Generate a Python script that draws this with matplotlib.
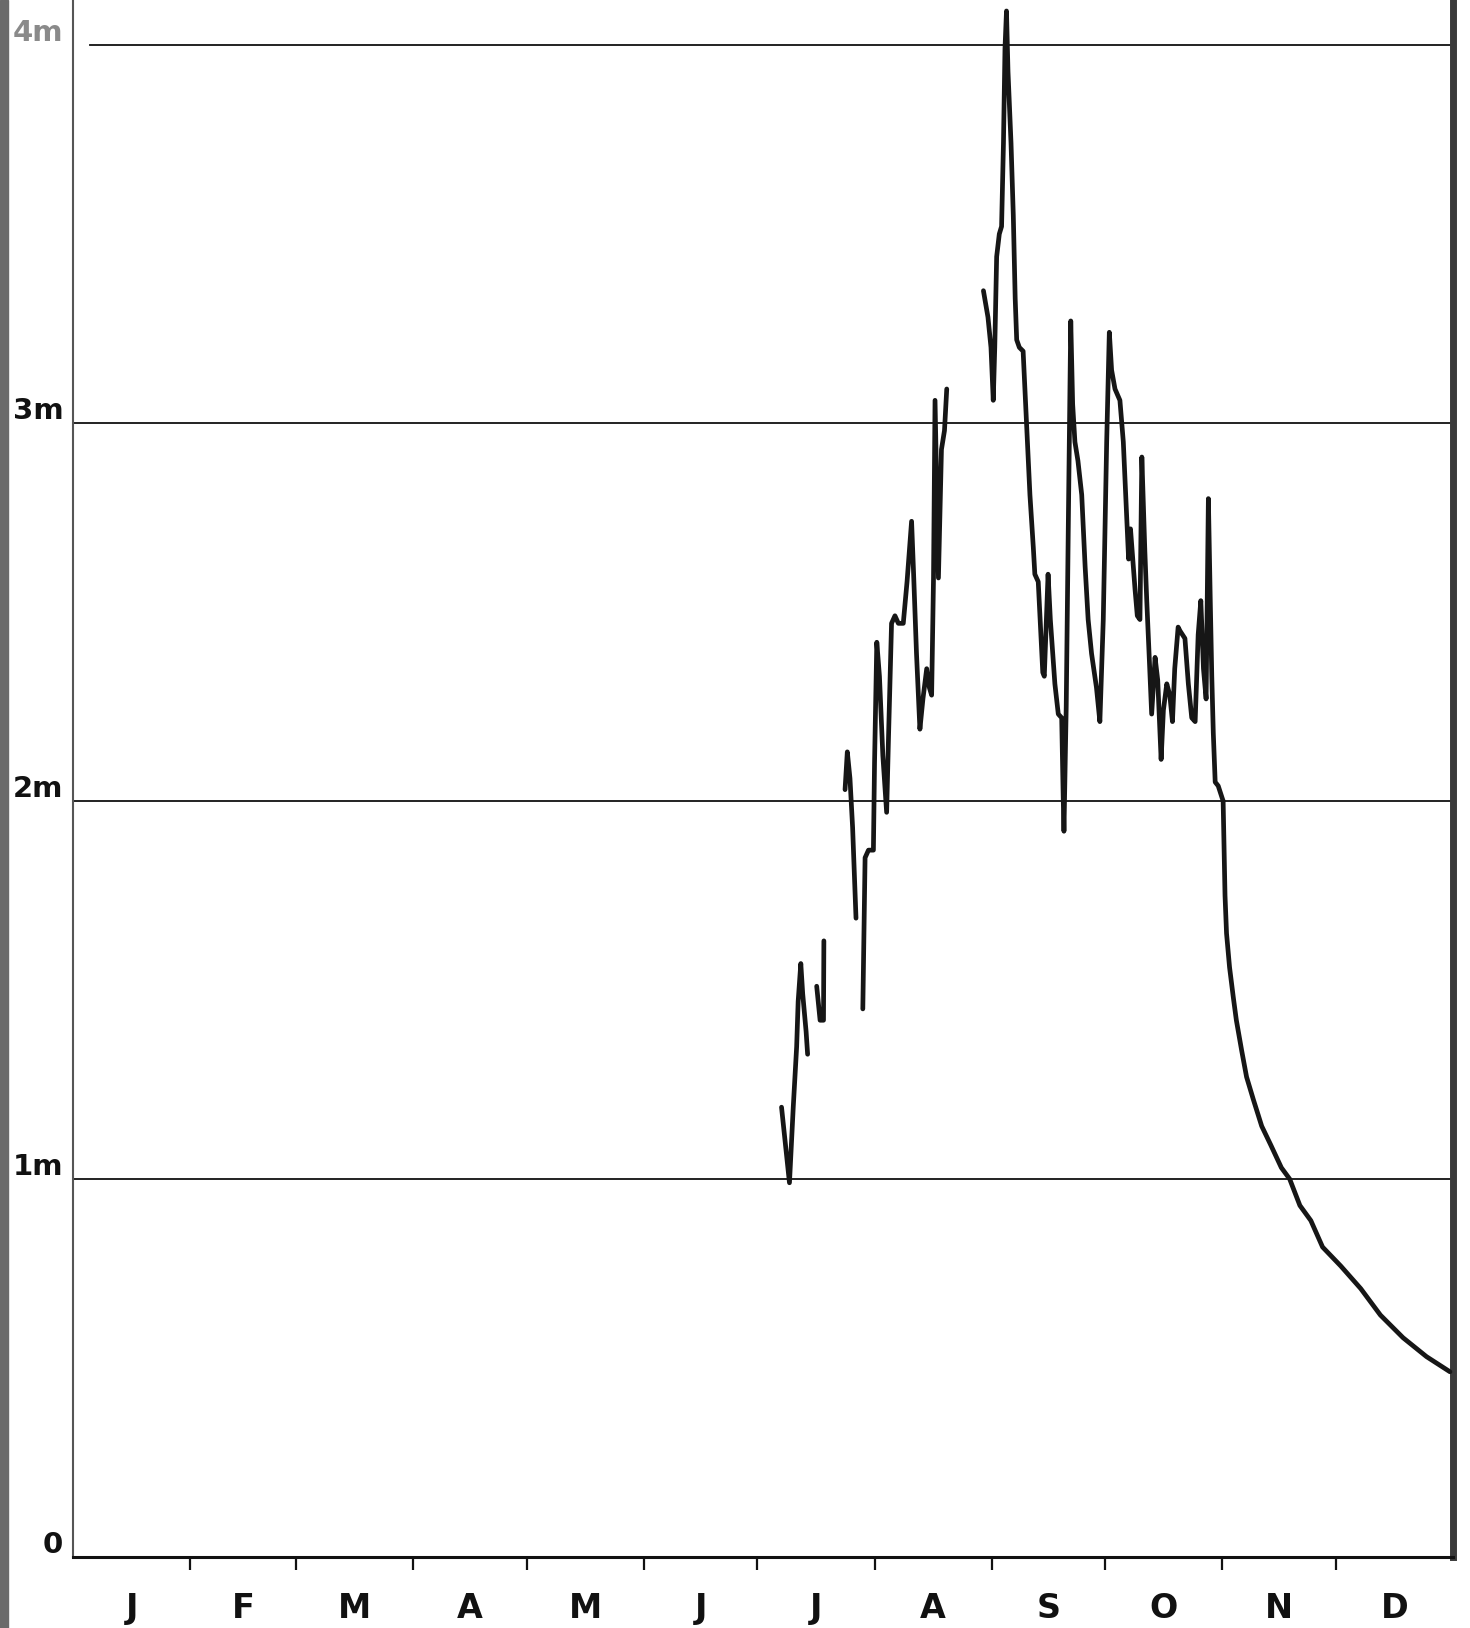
import numpy as np
import matplotlib.pyplot as plt
import matplotlib.transforms as mtransforms

# water level (m) vs day of year, read off the old hydrograph
# the record has gaps in July/August, so it is kept in separate pieces
seg1_day = [187.4, 189.5, 190.5, 191.4, 191.8, 192.5, 193.0, 193.9, 194.3]
seg1_lvl = [1.19, 0.99, 1.19, 1.35, 1.47, 1.57, 1.49, 1.39, 1.33]

seg2_day = [196.7, 197.6, 198.5, 198.6]
seg2_lvl = [1.51, 1.42, 1.42, 1.63]

seg3_day = [204.2, 204.8, 205.5, 206.2, 207.1]
seg3_lvl = [2.03, 2.13, 2.06, 1.93, 1.69]

seg4_day = [208.9, 209.5, 210.4, 211.7, 212.0, 212.6, 213.3, 214.2, 215.2, 215.7,
            216.5, 217.4, 218.3, 219.6, 220.6, 221.8, 222.3, 223.1, 224.0, 224.8,
            225.8, 226.5, 227.1, 227.6, 228.0, 228.9, 229.7, 230.5, 231.1]
seg4_lvl = [1.45, 1.85, 1.87, 1.87, 2.10, 2.42, 2.33, 2.12, 1.97, 2.17,
            2.47, 2.49, 2.47, 2.47, 2.58, 2.74, 2.61, 2.39, 2.19, 2.27,
            2.35, 2.30, 2.28, 2.59, 3.06, 2.59, 2.93, 2.98, 3.09]

seg5_day = [240.8, 242.0, 242.8, 243.4, 243.8, 244.3, 245.0, 245.6, 246.1, 246.5,
            246.9, 247.3, 248.1, 248.7, 249.2, 249.6, 250.3, 251.3, 252.2, 253.1,
            254.0, 254.4, 255.3, 255.8, 256.5, 256.9, 257.9, 258.5, 259.7, 260.6,
            261.5, 261.9, 262.1, 262.7, 263.3, 263.9, 264.4, 265.0, 265.8, 266.8,
            267.7, 268.5, 269.4, 270.7, 271.6, 272.5, 273.4, 274.1, 274.7, 275.6,
            276.9, 277.8, 278.7, 279.2, 279.7, 280.3, 280.9, 281.5, 282.2, 282.7,
            283.5, 284.0, 284.7, 285.3, 286.2, 286.9, 287.8, 288.4, 289.3, 290.1,
            290.8, 291.4, 292.3, 292.8, 294.1, 295.0, 295.9, 296.8, 297.6, 298.3,
            299.0, 299.7, 300.3, 300.8, 301.2, 301.6, 302.1, 302.9, 304.2]
seg5_lvl = [3.35, 3.28, 3.20, 3.06, 3.20, 3.44, 3.50, 3.52, 3.74, 3.99,
            4.09, 3.93, 3.74, 3.55, 3.33, 3.22, 3.20, 3.19, 3.00, 2.81,
            2.67, 2.60, 2.58, 2.48, 2.34, 2.33, 2.60, 2.48, 2.31, 2.23,
            2.22, 2.01, 1.92, 2.25, 2.77, 3.27, 3.05, 2.95, 2.90, 2.81,
            2.62, 2.48, 2.39, 2.30, 2.21, 2.48, 2.95, 3.24, 3.14, 3.09,
            3.06, 2.95, 2.75, 2.64, 2.72, 2.64, 2.56, 2.49, 2.48, 2.91,
            2.66, 2.53, 2.37, 2.23, 2.38, 2.32, 2.11, 2.24, 2.31, 2.28,
            2.21, 2.35, 2.46, 2.45, 2.43, 2.31, 2.22, 2.21, 2.44, 2.53,
            2.35, 2.27, 2.80, 2.53, 2.33, 2.18, 2.05, 2.04, 2.00]

# recession curve, November - December
seg6_day = [304.2, 304.7, 305.1, 305.9, 306.9, 307.7, 309.1, 310.4, 312.2, 314.4,
            316.8, 319.6, 321.8, 324.5, 327.4, 330.5, 335.3, 340.6, 345.8, 351.8,
            358.0, 364.2]
seg6_lvl = [2.00, 1.75, 1.65, 1.56, 1.48, 1.42, 1.34, 1.27, 1.21, 1.14,
            1.09, 1.03, 1.00, 0.93, 0.89, 0.82, 0.77, 0.71, 0.64, 0.58,
            0.53, 0.49]

months = ["J", "F", "M", "A", "M", "J", "J", "A", "S", "O", "N", "D"]
month_len = [31, 28, 31, 30, 31, 30, 31, 31, 30, 31, 30, 31]
level_marks = [0, 1, 2, 3, 4]
level_names = ["0", "1m", "2m", "3m", "4m"]

edges = np.concatenate([[0], np.cumsum(month_len)])
mids = (edges[:-1] + edges[1:]) / 2

W, H = 1470, 1628
fig = plt.figure(figsize=(W / 100, H / 100), dpi=100)
ax = fig.add_axes([73 / W, 1 - 1557 / H, 1380 / W, 1557 / H])
ax.set_xlim(0, 365)
ax.set_ylim(0, 1557 / 378)

ink = "#161616"
for lv in level_marks[1:]:
    ax.axhline(lv, color="#111111", lw=1.3, xmin=0.012 if lv == 4 else 0, zorder=1)

segs = [(seg1_day, seg1_lvl), (seg2_day, seg2_lvl), (seg3_day, seg3_lvl),
        (seg4_day, seg4_lvl), (seg5_day, seg5_lvl), (seg6_day, seg6_lvl)]
for d, v in segs:
    ax.plot(d, v, color=ink, lw=3.4, solid_joinstyle="round",
            solid_capstyle="round", zorder=3)

ax.spines["top"].set_visible(False)
ax.spines["left"].set_color("#555555")
ax.spines["left"].set_linewidth(1.5)
ax.spines["bottom"].set_color("#111111")
ax.spines["bottom"].set_linewidth(2.2)
ax.spines["right"].set_color("#3a3a3a")
ax.spines["right"].set_linewidth(5)

ax.set_xticks(edges[1:-1])
ax.tick_params(axis="x", which="major", direction="out", length=9, width=1.6,
               color="#111111", labelbottom=False)
ax.set_xticks(mids, minor=True)
ax.set_xticklabels(months, minor=True, fontsize=24, fontweight="bold", color="#111111")
ax.tick_params(axis="x", which="minor", length=0, pad=25)
ax.set_yticks([])

trans = mtransforms.blended_transform_factory(ax.transAxes, ax.transData)
for lv, name in zip(level_marks, level_names):
    col = "#8a8a8a" if lv == 4 else "#111111"
    ax.text(-0.007, lv + 0.01, name, transform=trans, ha="right", va="baseline",
            fontsize=21, fontweight="bold", color=col)

# dark scan edge on the left side of the sheet
fig.patches.append(plt.Rectangle((0, 0), 8 / W, 1, transform=fig.transFigure,
                                 color="#6a6a6a", zorder=0))

fig.savefig("out.png", dpi=100)
